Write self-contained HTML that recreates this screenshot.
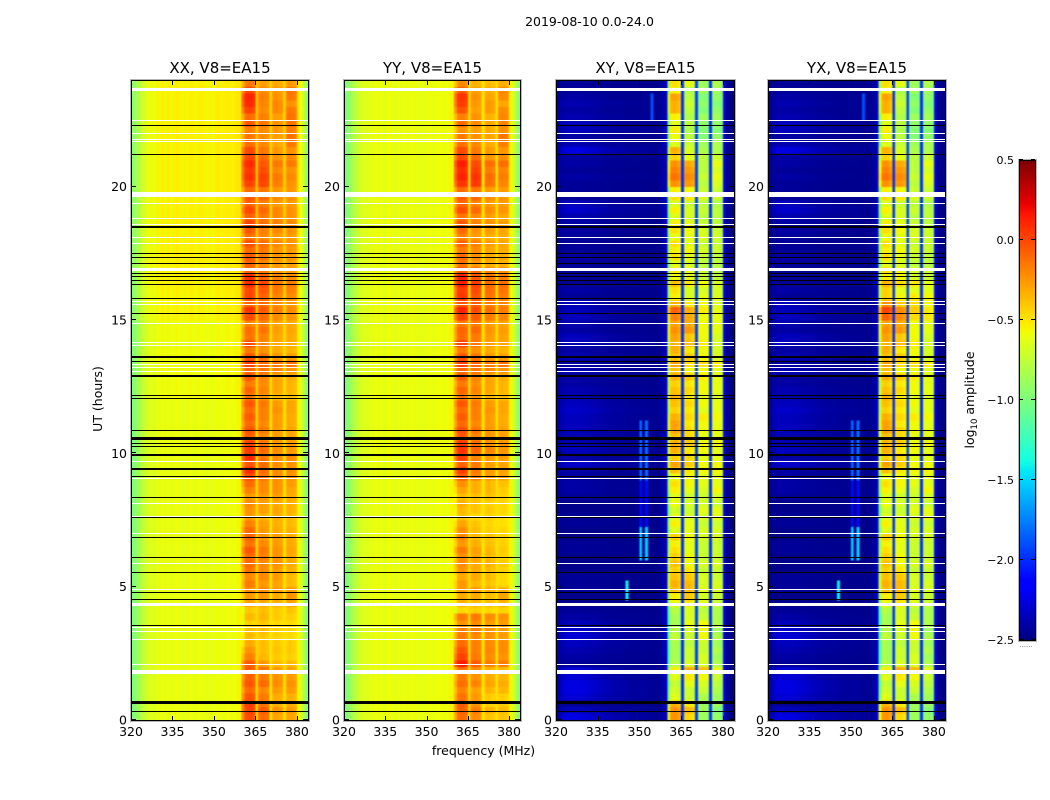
<!DOCTYPE html>
<html lang="en">
<head>
<meta charset="utf-8">
<title>2019-08-10 0.0-24.0</title>
<style>
html,body{margin:0;padding:0;background:#fff;}
svg{display:block;}
text{font-family:"DejaVu Sans","Liberation Sans",sans-serif;fill:#000;}
.tick{font-size:12.5px;}
.cbtick{font-size:11px;}
.ttl{font-size:15px;}
.lbl{font-size:12.5px;}
</style>
</head>
<body>
<svg id="chart" xmlns="http://www.w3.org/2000/svg" width="1050" height="800" viewBox="0 0 1050 800">
<defs>
<filter id="soften" x="-5%" y="-5%" width="110%" height="110%" color-interpolation-filters="sRGB"><feGaussianBlur stdDeviation="0.9 0.5"/></filter>
</defs>
<text class="lbl" x="589.5" y="26" text-anchor="middle">2019-08-10 0.0-24.0</text>
<text class="lbl" x="483.5" y="755" text-anchor="middle">frequency (MHz)</text>
<text class="lbl" x="102" y="399" text-anchor="middle" transform="rotate(-90 102 399)">UT (hours)</text>
<text class="lbl" x="974" y="400" text-anchor="middle" transform="rotate(-90 974 400)">log<tspan font-size="8.5" dy="3">10</tspan><tspan dy="-3"> amplitude</tspan></text>
<g id="panels"></g>
<g id="colorbar"></g>
</svg>
<script>
// ---- Chart data ----
const panelTitles = ["XX, V8=EA15", "YY, V8=EA15", "XY, V8=EA15", "YX, V8=EA15"];
const freqTicks = [320, 335, 350, 365, 380];
const hourTicks = [0, 5, 10, 15, 20];
const colorbarTicks = [0.5, 0.0, -0.5, -1.0, -1.5, -2.0, -2.5];
const colorbarTickLabels = ["0.5", "0.0", "\u22120.5", "\u22121.0", "\u22121.5", "\u22122.0", "\u22122.5"];

// log10 amplitude per 1 MHz channel, 320..383 MHz
const parallelSpectrum = [
 -1.0,-.95,-.88,-.8,-.74,-.7,-.66,-.62,-.66,-.6,
 -.62,-.58,-.62,-.58,-.62,-.6,-.58,-.6,-.62,-.6,
 -.62,-.58,-.6,-.62,-.58,-.6,-.6,-.62,-.6,-.62,
 -.6,-.58,-.6,-.6,-.58,-.58,-.6,-.58,-.56,-.55,
 -.35,-.17,-.15,-.15,-.19,-.45,-.27,-.24,-.26,-.28,
 -.5,-.32,-.3,-.32,-.34,-.48,-.32,-.3,-.32,-.34,
 -.55,-.65,-.8,-.95];
const crossSpectrum = [
 -2.47,-2.47,-2.47,-2.47,-2.47,-2.47,-2.47,-2.47,-2.47,-2.47,
 -2.47,-2.47,-2.47,-2.47,-2.47,-2.47,-2.47,-2.47,-2.47,-2.47,
 -2.47,-2.47,-2.47,-2.47,-2.47,-2.47,-2.47,-2.47,-2.47,-2.47,
 -2.47,-2.47,-2.47,-2.47,-2.47,-2.47,-2.47,-2.44,-2.42,-2.3,
 -.9,-.54,-.52,-.54,-.6,-2.0,-.62,-.6,-.62,-.66,
 -1.95,-.68,-.66,-.67,-.7,-2.0,-.72,-.7,-.72,-.77,
 -2.2,-2.47,-2.47,-2.47];
const crossLowShape = [
 .15,.35,.5,.65,.65,.65,.65,.65,.65,.6,
 .6,.55,.5,.5,.45,.4,.4,.35,.3,.3,
 .25,.25,.25,.25,.2,.2,.15,.15,.15,.15,
 .15,.15,.15,.1,.1,.1,.05,.05,.05,.03,
 0,0,0,0,0,0,0,0,0,0,0,0,0,0,0,0,0,0,0,0,0,0,0,0];

const bandStart = [360, 366, 371, 376];
const bandEnd = [364, 369, 374, 379];

// Offsets per quarter hour, 0h..24h (each line is one hour)
const parallelBandA = [
 .15,.18,.2,.12, .05,.12,.08,.1, .1,-.02,-.08,-.15, -.2,-.22,-.28,-.2,
 -.25,-.12,-.1,-.05, 0,-.05,.02,.05, .05,.12,.02,.08, .05,-.02,-.1,-.08,
 -.05,-.1,-.02,.05, .15,.25,.12,.25, .2,.18,.1,.12, .05,.1,.05,.12,
 0,.05,-.02,.08, .05,.18,.1,-.02, .15,0,.02,-.05, .1,.18,.02,.12,
 .1,.2,.18,0, .02,.05,0,.08, -.02,.05,.12,.02, .1,.02,.05,0,
 .12,.18,.15,.2, .12,.1,-.02,-.05, -.08,.05,-.02,.12, .2,.22,.1,-.05];
const parallelBandB = [
 .15,.2,.12,.1, .05,.15,.1,.12, 0,-.1,-.12,-.12, -.15,-.12,-.15,-.1,
 -.12,-.05,0,.05, 0,.05,.05,.05, .08,.1,.05,.02, 0,-.02,-.08,-.02,
 -.02,0,.05,.05, .12,.15,.15,.12, .15,.12,.05,.1, .05,.08,.08,.1,
 0,.05,.02,.05, .1,.15,.1,0, .05,.05,.1,.05, .1,.15,.1,.12,
 .15,.2,.12,.05, 0,.05,.05,.08, 0,.02,.08,.05, .1,.02,.1,.05,
 .2,.22,.18,.15, .1,.05,0,-.02, -.02,.05,.02,-.02, 0,.02,-.02,-.08];
const parallelBandC = [
 .02,.08,-.02,0, .05,.1,.08,.05, -.05,-.1,-.08,-.1, -.12,-.12,-.15,-.1,
 -.1,0,0,.05, .02,.05,.05,.08, .08,.08,.05,.05, 0,-.02,0,.02,
 0,.05,.08,.08, .1,.1,.1,.1, .1,.08,.05,.05, .05,.05,.08,.05,
 -.05,0,0,0, .1,.15,.05,-.02, 0,0,.02,0, .05,.1,.05,.08,
 .1,.12,.08,.02, 0,.02,.02,.05, 0,.05,.08,.05, .05,0,.05,0,
 .08,.1,.05,.1, .02,0,-.05,-.02, 0,.02,-.02,.05, .05,.02,0,-.05];
const parallelBandD = [
 .02,.05,0,-.02, .05,.08,.05,.02, -.05,-.12,-.1,-.1, -.15,-.15,-.15,-.12,
 -.08,.02,.08,.05, -.05,-.05,-.02,0, 0,.02,0,0, -.02,-.05,-.05,-.02,
 -.02,0,.02,.05, .08,.08,.08,.1, .05,.05,.02,.02, 0,0,.02,.02,
 -.08,-.05,-.05,-.02, .05,.18,.02,-.05, -.02,-.02,0,-.02, .02,.05,.02,.05,
 .08,.1,.05,0, -.02,0,0,.02, 0,.02,.05,.02, .02,0,.02,0,
 .02,.05,.02,.1, .05,.02,.1,.12, .08,.12,.12,.1, .02,.1,.12,0];
const crossBandA = [
 .3,.3,.2,-.1, -.15,-.2,-.1,0, -.25,-.3,-.3,-.3, -.2,-.25,-.3,-.3,
 -.25,-.05,0,.15, .2,.15,.1,.15, .1,.05,0,.1, -.1,0,-.1,-.15,
 -.05,-.1,0,.05, -.05,.15,.25,.1, .2,.2,.15,.25, .25,.2,.1,.15,
 .2,.15,.1,.2, .15,.25,.15,.2, .2,.25,.3,.25, .35,.45,.2,0,
 .05,.15,-.05,0, -.1,.05,0,.05, -.05,.05,0,-.1, 0,-.1,.05,0,
 .3,.4,.35,.3, .1,.2,-.1,-.05, 0,-.1,0,.2, .2,.25,0,.05];
const crossBandB = [
 .15,.25,.1,-.1, -.1,0,.1,.3, -.05,-.1,-.1,-.15, -.1,-.05,0,-.05,
 -.05,.1,.2,.25, .25,.2,.1,.05, .05,0,0,.05, 0,0,-.05,-.1,
 -.05,-.1,0,.05, .05,.1,.2,.15, .1,.2,.15,.15, .1,.15,.1,.15,
 .1,.15,.1,.2, .05,.15,.2,.1, .25,.2,.35,.3, .3,.3,.1,-.05,
 -.05,.1,0,0, -.05,0,.05,0, 0,.05,0,-.05, -.05,-.1,.1,.05,
 .35,.4,.35,.3, 0,-.05,-.1,-.15, -.2,-.15,-.2,-.15, -.1,-.15,-.2,0];
const crossBandC = [
 -.2,-.2,-.2,-.15, -.05,0,.1,.3, 0,0,-.05,-.05, .1,.1,.1,-.05,
 -.1,.05,0,.05, 0,0,-.05,0, -.05,-.05,-.05,0, 0,-.05,0,.05,
 0,-.05,0,.05, .05,.1,.1,.05, .1,.1,.05,.1, .1,.15,.05,.1,
 .05,.1,.1,.15, .1,.2,.1,.1, .15,.1,.1,.1, .1,.15,.1,.05,
 0,.1,-.05,-.05, -.1,-.05,0,-.05, 0,0,-.05,-.1, -.05,-.1,0,-.05,
 -.1,-.05,-.1,-.1, -.1,-.15,-.2,-.3, -.3,-.25,-.2,-.3, -.25,-.3,-.2,-.2];
const crossBandD = [
 -.2,-.25,-.15,-.15, -.1,-.05,0,.1, -.1,-.15,-.1,-.15, -.1,-.15,-.1,-.1,
 -.1,0,0,.05, .05,0,0,.05, 0,0,0,.05, .05,0,.1,.1,
 0,.05,.15,.1, .1,.15,.15,.1, .1,.15,.1,.1, .1,.15,.1,.1,
 .05,.1,.1,.1, .1,.2,.05,.05, .05,.05,.1,.1, .1,.1,.05,.05,
 .05,.05,-.05,-.05, -.05,-.05,0,0, 0,0,-.05,-.05, -.05,-.1,0,0,
 .05,.1,.05,.1, 0,-.1,-.1,-.2, -.25,-.2,-.15,-.2, -.25,-.2,-.15,-.1];
const crossLow = [
 .35,.2,.05,.3, .35,.35,.3,.3, .05,.1,.15,.2, .3,.25,.2,.1,
 .05,0,0,.05, .05,.05,0,0, 0,.05,.05,0, 0,.05,.05,0,
 0,.05,.1,.1, .1,.1,.25,.1, .2,.15,.15,.2, .2,.2,.25,.2,
 .15,.15,.1,.1, .15,.1,.15,.1, .2,.2,.1,.15, .2,.2,.2,.05,
 .1,.05,.05,.05, .05,.1,.05,.05, .05,.1,.1,.15, .25,.2,.05,.05,
 .05,.1,.05,.1, .1,.35,.15,.1, .2,.2,.15,.1, .15,.1,.05,.05];

// Hourly offsets separating YY from XX and YX from XY
const yyHourOffset = [-.1,-.08,.2,.2,-.05,-.1,-.12,-.12,-.12,-.05,.02,0,.02,.02,.05,.1,.1,0,0,.05,.1,.05,0,0];
const yxHourOffset = [0,0,0,0,0,0,0,0,0,0,0,0,0,0,0,.1,.05,0,0,0,0,0,0,0];
// Broadband tint of the XX off-band channels per hour
const xxHourTint = [0,0,0,0,0,0,0,0,0,0,0,0,.02,.02,.02,.05,.06,.06,.06,.06,.06,.06,.06,.06];

// Narrow interference features in the cross hands
const rfiChannel = [350, 352, 350, 352, 350, 352, 345, 354];
const rfiStartHour = [6, 6, 9, 9, 7, 7, 4.5, 22.5];
const rfiEndHour = [7.25, 7.25, 11.25, 11.25, 9, 9, 5.25, 23.5];
const rfiValue = [-1.5, -1.5, -1.8, -1.8, -2.1, -2.1, -1.4, -1.9];

// Flagged rows (hour, thickness in hours)
const whiteFlagHours = [23.65,22.47,22.0,21.78,21.68,19.71,19.38,18.81,18.59,18.1,17.87,16.91,15.7,15.6,14.88,14.16,14.06,13.32,13.22,13.08,9.68,9.06,8.13,7.63,7.0,5.88,4.88,4.34,3.48,3.33,3.03,2.09,1.8];
const whiteFlagWidths = [.13,.04,.04,.04,.04,.18,.04,.04,.04,.04,.04,.13,.04,.04,.04,.04,.04,.04,.04,.04,.04,.04,.04,.04,.04,.04,.04,.13,.04,.04,.04,.04,.14];
const blackFlagHours = [22.3,21.2,18.5,17.5,17.35,17.12,16.75,16.62,16.47,16.35,15.81,15.25,13.62,13.43,12.91,12.16,12.06,10.85,10.56,10.37,10.24,9.95,9.42,9.12,8.35,7.59,6.85,6.09,5.54,4.8,4.53,3.55,0.66,0.33];
const blackFlagWidths = [.04,.04,.08,.04,.04,.04,.04,.04,.04,.04,.04,.04,.08,.04,.08,.04,.04,.04,.12,.04,.04,.08,.08,.04,.04,.04,.04,.04,.04,.04,.04,.04,.13,.04];

// ---- Layout and scales ----
const SVGNS = "http://www.w3.org/2000/svg";
const panelLeft = [131, 344, 556, 768];
const panelWidth = [177, 176, 178, 177];
const plotTop = 80, plotBottom = 720;
const freqMin = 320, freqMax = 384, hourMax = 24;
const xScale = (p, f) => panelLeft[p] + (f - freqMin) / (freqMax - freqMin) * panelWidth[p];
const yScale = h => plotBottom - h / hourMax * (plotBottom - plotTop);
const cbTop = 160, cbBottom = 640, cbLeft = 1019, cbRight = 1035, cbMin = -2.5, cbMax = 0.5;
const cbScale = v => cbBottom - (v - cbMin) / (cbMax - cbMin) * (cbBottom - cbTop);

function ramp(x, pts) {
  for (let i = 1; i < pts.length; i++) {
    if (x <= pts[i][0]) {
      const a = pts[i - 1], b = pts[i];
      return a[1] + (b[1] - a[1]) * (x - a[0]) / (b[0] - a[0]);
    }
  }
  return pts[pts.length - 1][1];
}
function jet(v) {
  const x = Math.max(0, Math.min(1, (v - cbMin) / (cbMax - cbMin)));
  const r = ramp(x, [[0,0],[.35,0],[.66,1],[.89,1],[1,.5]]);
  const g = ramp(x, [[0,0],[.125,0],[.375,1],[.64,1],[.91,0],[1,0]]);
  const b = ramp(x, [[0,.5],[.11,1],[.34,1],[.65,0],[1,0]]);
  return "rgb(" + Math.round(r * 255) + "," + Math.round(g * 255) + "," + Math.round(b * 255) + ")";
}
function make(tag, attrs, parent) {
  const el = document.createElementNS(SVGNS, tag);
  for (const k in attrs) el.setAttribute(k, attrs[k]);
  parent.appendChild(el);
  return el;
}
function bandGains(panel) {
  return panel < 2
    ? [parallelBandA, parallelBandB, parallelBandC, parallelBandD]
    : [crossBandA, crossBandB, crossBandC, crossBandD];
}
function cellValue(panel, ch, row) {
  const spectrum = panel < 2 ? parallelSpectrum : crossSpectrum;
  const freq = freqMin + ch;
  const hourIdx = Math.floor(row / 4);
  let v = spectrum[ch];
  if (panel >= 2) v += crossLow[row] * crossLowShape[ch];
  if (panel === 0) v += xxHourTint[hourIdx];
  const gains = bandGains(panel);
  for (let b = 0; b < bandStart.length; b++) {
    if (freq >= bandStart[b] && freq <= bandEnd[b]) {
      v += gains[b][row];
      if (panel === 1) v += yyHourOffset[hourIdx];
      if (panel === 3) v += yxHourOffset[hourIdx];
    }
  }
  if (panel >= 2) {
    const hour = row / 4;
    for (let i = 0; i < rfiChannel.length; i++) {
      if (rfiChannel[i] === freq && hour >= rfiStartHour[i] && hour < rfiEndHour[i]) v = Math.max(v, rfiValue[i]);
    }
  }
  return v;
}

// ---- Draw panels ----
const panelsRoot = document.getElementById("panels");
const defs = document.querySelector("svg defs");
const rowCount = parallelBandA.length;
const chCount = parallelSpectrum.length;
panelTitles.forEach(function (title, p) {
  const left = panelLeft[p], plotW = panelWidth[p];
  const g = make("g", {}, panelsRoot);
  
  

  const clip = make("clipPath", {id: "plot-clip-" + p}, defs);
  make("rect", {x: left, y: plotTop, width: plotW, height: plotBottom - plotTop}, clip);
  const clipped = make("g", {"clip-path": "url(#plot-clip-" + p + ")"}, g);
  
  

  const cells = make("g", {"shape-rendering": "crispEdges", filter: "url(#soften)"}, clipped);
  
  
  for (let r = 0; r < rowCount; r++) {
    let yTop = yScale((r + 1) / 4), yBot = yScale(r / 4);
    if (r === 0) yBot += 5;
    if (r === rowCount - 1) yTop -= 5;
    for (let c = 0; c < chCount; c++) {
      let x0 = xScale(p, freqMin + c), x1 = xScale(p, freqMin + c + 1);
      if (c === 0) x0 -= 5;
      if (c === chCount - 1) x1 += 5;
      const cell = make("rect", {x: x0, y: yTop, width: x1 - x0 + 0.4, height: yBot - yTop + 0.4, fill: jet(cellValue(p, c, r))}, cells);
      
      
    }
  }

  const flags = make("g", {"shape-rendering": "crispEdges"}, g);
  
  
  whiteFlagHours.forEach(function (h, i) {
    const w = whiteFlagWidths[i];
    const thick = Math.max(1, Math.round(w * (plotBottom - plotTop) / hourMax));
    const line = make("rect", {x: left + 1, y: Math.round(yScale(h) - thick / 2), width: plotW - 1, height: thick, fill: "#fff"}, flags);
    
    
  });
  blackFlagHours.forEach(function (h, i) {
    const w = blackFlagWidths[i];
    const thick = Math.max(1, Math.round(w * (plotBottom - plotTop) / hourMax));
    const line = make("rect", {x: left, y: Math.round(yScale(h) - thick / 2), width: plotW, height: thick, fill: "#000"}, flags);
    
    
  });

  const halo = make("rect", {x: left - 0.5, y: plotTop - 0.5, width: plotW + 2, height: plotBottom - plotTop + 2, fill: "none", stroke: "#b5b5b5", "stroke-width": 1}, g);
  
  
  const frame = make("rect", {x: left + 0.5, y: plotTop + 0.5, width: plotW, height: plotBottom - plotTop, fill: "none", stroke: "#000", "stroke-width": 1}, g);
  
  

  freqTicks.forEach(function (f) {
    const x = Math.round(xScale(p, f)) + 0.5;
    const t1 = make("line", {x1: x, x2: x, y1: plotBottom, y2: plotBottom - 4, stroke: "#000"}, g);
    
    
    const t2 = make("line", {x1: x, x2: x, y1: plotTop, y2: plotTop + 5, stroke: "#000"}, g);
    
    
    const lab = make("text", {x: xScale(p, f), y: 736, "text-anchor": "middle", class: "tick"}, g);
    lab.textContent = String(f);
    
    
  });
  hourTicks.forEach(function (h) {
    const y = Math.round(yScale(h)) - 0.5;
    const t1 = make("line", {x1: left, x2: left + 5, y1: y, y2: y, stroke: "#000"}, g);
    
    
    const t2 = make("line", {x1: left + plotW, x2: left + plotW - 5, y1: y, y2: y, stroke: "#000"}, g);
    
    
    const lab = make("text", {x: left - 4, y: yScale(h) + 4.5, "text-anchor": "end", class: "tick"}, g);
    lab.textContent = String(h);
    
    
  });

  const ttl = make("text", {x: left + plotW / 2 + 0.5, y: 73, "text-anchor": "middle", class: "ttl"}, g);
  ttl.textContent = title;
  
  
});

// ---- Draw colorbar ----
const cb = document.getElementById("colorbar");
const cbLevels = 256;
const cbRamp = make("g", {"shape-rendering": "crispEdges"}, cb);


for (let i = 0; i < cbLevels; i++) {
  const v0 = cbMin + (cbMax - cbMin) * i / cbLevels;
  const v1 = cbMin + (cbMax - cbMin) * (i + 1) / cbLevels;
  const seg = make("rect", {x: cbLeft, y: cbScale(v1), width: cbRight - cbLeft, height: cbScale(v0) - cbScale(v1) + 0.5, fill: jet((v0 + v1) / 2)}, cbRamp);
  
  
}
const cbHalo = make("rect", {x: cbLeft - 0.5, y: cbTop - 0.5, width: cbRight - cbLeft + 2, height: cbBottom - cbTop + 2, fill: "none", stroke: "#b5b5b5"}, cb);


const cbFrame = make("rect", {x: cbLeft + 0.5, y: cbTop + 0.5, width: cbRight - cbLeft, height: cbBottom - cbTop, fill: "none", stroke: "#000"}, cb);


colorbarTicks.forEach(function (v, i) {
  const y = Math.round(cbScale(v)) - 0.5;
  const t1 = make("line", {x1: cbLeft, x2: cbLeft + 4, y1: y, y2: y, stroke: "#000"}, cb);
  
  
  const t2 = make("line", {x1: cbRight, x2: cbRight - 4, y1: y, y2: y, stroke: "#000"}, cb);
  
  
  const lab = make("text", {x: cbLeft - 5, y: cbScale(v) + 4, "text-anchor": "end", class: "cbtick"}, cb);
  lab.textContent = colorbarTickLabels[i];
  
  
});
[1023, 1027, 1031].forEach(function (x) {
  const a = make("line", {x1: x + 0.5, x2: x + 0.5, y1: cbTop, y2: cbTop + 4, stroke: "#000"}, cb);
  
  
  const b = make("line", {x1: x + 0.5, x2: x + 0.5, y1: cbBottom, y2: cbBottom - 4, stroke: "#000"}, cb);
  
  
});
const cbDots = make("text", {x: 1026, y: 647, "text-anchor": "middle"}, cb);
cbDots.style.fontSize = "7px";
cbDots.style.fill = "#666";
cbDots.textContent = "......";


</script>
</body>
</html>
